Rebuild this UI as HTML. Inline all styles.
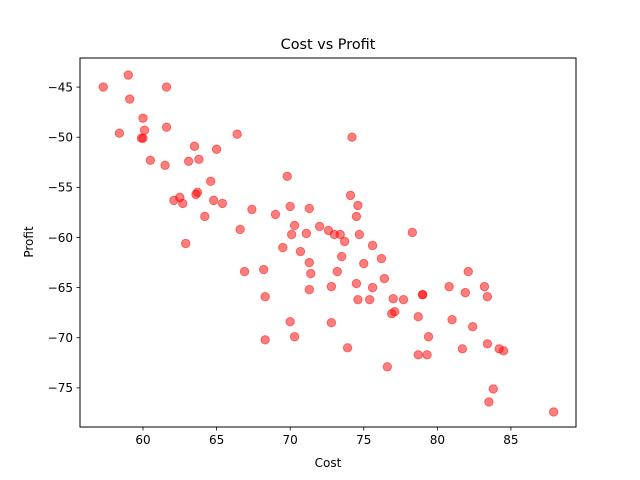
<!DOCTYPE html>
<html><head><meta charset="utf-8"><style>
html,body{margin:0;padding:0;background:#fff;}
svg{display:block;font-family:"DejaVu Sans","Liberation Sans",sans-serif;}
</style></head><body>
<svg id="chart" width="640" height="480"></svg>
<script>
const categories = ["Cost","Profit"];
const costs = [57.3,59.0,59.1,58.4,60.0,60.1,59.9,60.0,61.6,61.6,60.5,61.5,63.1,63.5,63.8,65.0,66.4,62.1,62.5,62.7,63.6,63.7,62.9,64.6,64.8,65.4,64.2,66.6,66.9,67.4,68.2,68.3,68.3,69.8,69.0,70.0,70.3,70.1,69.5,70.7,71.1,71.3,71.3,71.4,71.3,70.0,70.3,74.2,74.1,74.5,74.7,74.6,72.0,72.6,73.0,73.4,73.7,73.5,73.2,72.8,72.8,73.9,74.5,74.6,75.0,75.6,75.6,75.4,76.2,76.4,76.6,77.0,77.1,76.9,77.7,78.3,78.7,79.0,79.4,78.7,79.3,79.0,80.8,81.0,81.7,81.9,82.1,82.4,83.2,83.4,83.4,83.5,83.8,84.2,84.5,87.9];
const profits = [-45.0,-43.8,-46.2,-49.6,-48.1,-49.3,-50.1,-50.1,-45.0,-49.0,-52.3,-52.8,-52.4,-50.9,-52.2,-51.2,-49.7,-56.3,-56.0,-56.6,-55.7,-55.5,-60.6,-54.4,-56.3,-56.6,-57.9,-59.2,-63.4,-57.2,-63.2,-65.9,-70.2,-53.9,-57.7,-56.9,-58.8,-59.7,-61.0,-61.4,-59.6,-57.1,-62.5,-63.6,-65.2,-68.4,-69.9,-50.0,-55.8,-57.9,-59.7,-56.8,-58.9,-59.3,-59.7,-59.7,-60.4,-61.9,-63.4,-64.9,-68.5,-71.0,-64.6,-66.2,-62.6,-60.8,-65.0,-66.2,-62.1,-64.1,-72.9,-66.1,-67.4,-67.6,-66.2,-59.5,-67.9,-65.7,-69.9,-71.7,-71.7,-65.7,-64.9,-68.2,-71.1,-65.5,-63.4,-68.9,-64.9,-65.9,-70.6,-76.4,-75.1,-71.1,-71.3,-77.4];
const xTicks = [60,65,70,75,80,85];
const yTicks = [-45,-50,-55,-60,-65,-70,-75];

const NS="http://www.w3.org/2000/svg";
const svg=document.getElementById('chart');
const L=80,R=576,T=58,B=427;
const xMin=55.72,xMax=89.42,yMin=-78.9,yMax=-42.1;
function sx(v){return L+(v-xMin)/(xMax-xMin)*(R-L);}
function sy(v){return B-(v-yMin)/(yMax-yMin)*(B-T);}
function mk(tag,attrs){const e=document.createElementNS(NS,tag);for(const k in attrs)e.setAttribute(k,attrs[k]);svg.appendChild(e);return e;}

const title=mk('text',{x:328,y:49,'text-anchor':'middle','font-size':'14.4',fill:'#000'});
title.textContent="Cost vs Profit";



for(let i=0;i<costs.length;i++){
  const c=mk('circle',{cx:sx(costs[i]),cy:sy(profits[i]),r:4.2,fill:'rgba(255,0,0,0.5)',stroke:'rgba(255,0,0,0.5)','stroke-width':1});
  
  
}

const frame=mk('rect',{x:L,y:T,width:R-L,height:B-T,fill:'none',stroke:'#000','stroke-width':1});



xTicks.forEach(t=>{
  const x=sx(t);
  const tk=mk('line',{x1:x,x2:x,y1:B,y2:B+3.5,stroke:'#000','stroke-width':0.8});
  
  
  const lb=mk('text',{x:x,y:B+17,'text-anchor':'middle','font-size':'12',fill:'#000'});
  lb.textContent=t;
  
  
});
yTicks.forEach(t=>{
  const y=sy(t);
  const tk=mk('line',{x1:L-3.5,x2:L,y1:y,y2:y,stroke:'#000','stroke-width':0.8});
  
  
  const lb=mk('text',{x:L-7,y:y+4.3,'text-anchor':'end','font-size':'12',fill:'#000'});
  lb.textContent='\u2212'+Math.abs(t);
  
  
});

const xl=mk('text',{x:328,y:467,'text-anchor':'middle','font-size':'12',fill:'#000'});
xl.textContent=categories[0];


const yl=mk('text',{x:33,y:242,'text-anchor':'middle','font-size':'12',fill:'#000',transform:'rotate(-90 33 242)'});
yl.textContent=categories[1];


</script>
</body></html>
